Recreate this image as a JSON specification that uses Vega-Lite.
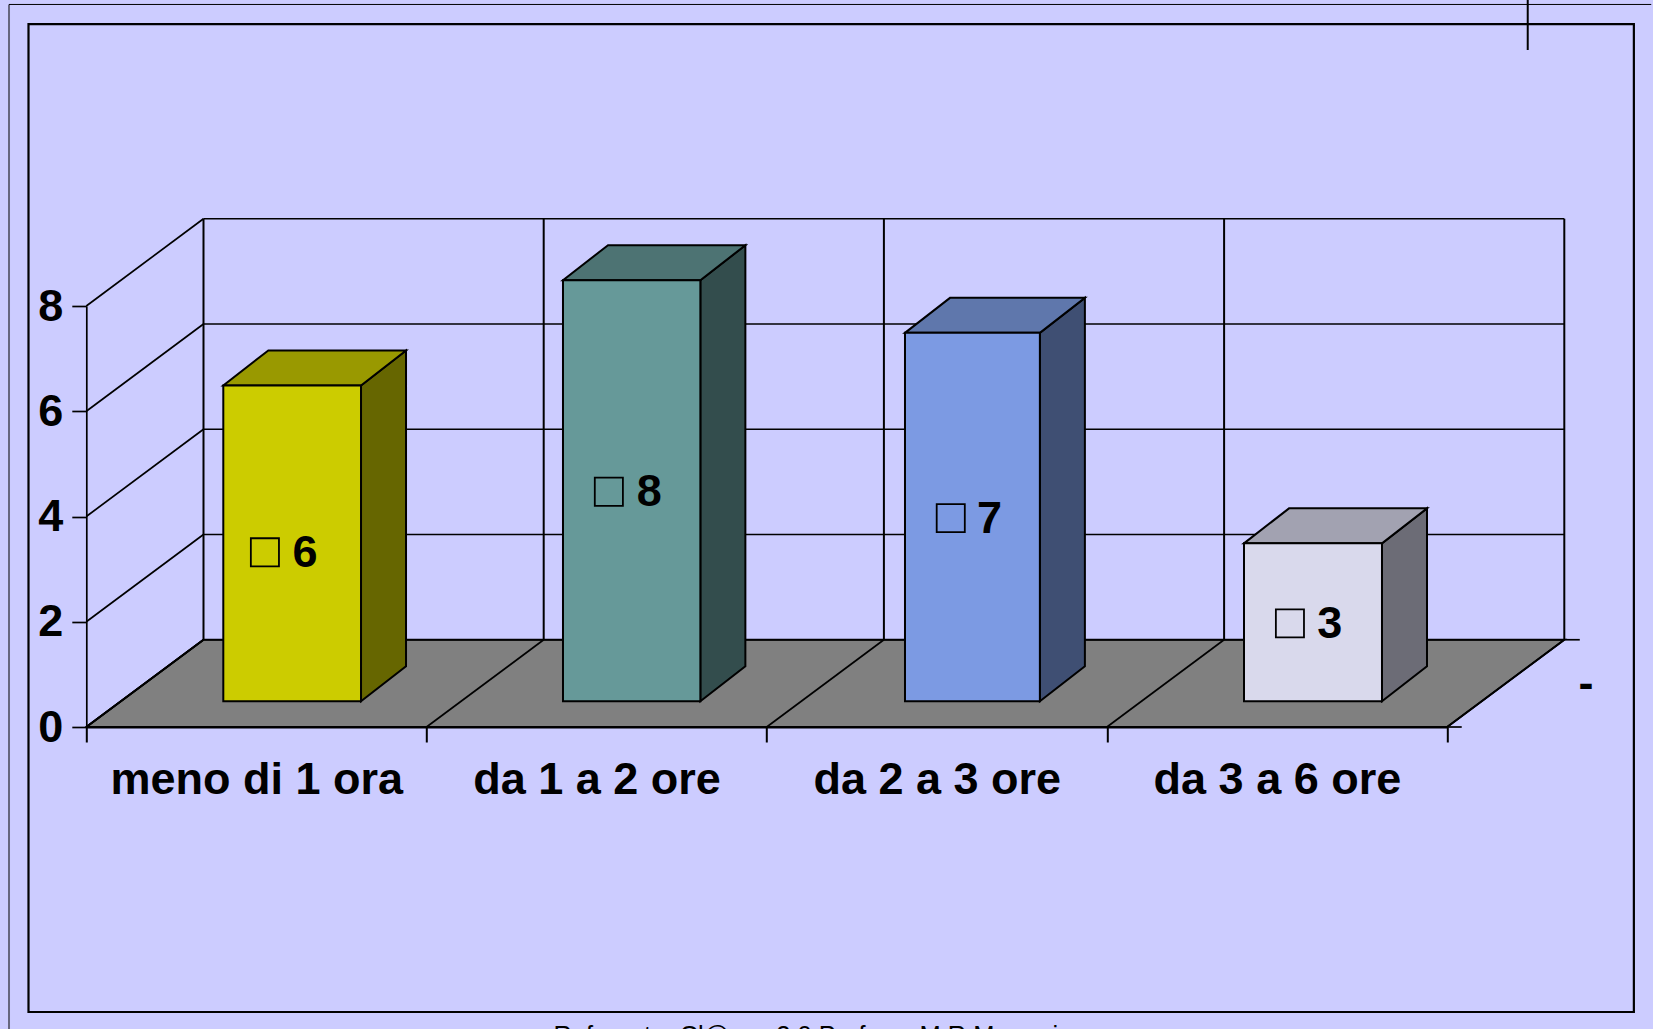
{
"$schema":"https://vega.github.io/schema/vega-lite/v6.json",
"width":1360.8,"height":421,
"autosize":{"type":"none"},
"padding":{"left":86.3,"top":306,"right":205.9,"bottom":302},
"background":"#CCCCFF",
"config":{"view":{"stroke":null},"text":{"font":"Liberation Sans"},"axis":{"title":null,"grid":false}},
"datasets":{
 "bars":[{"category":"meno di 1 ora","value":6},{"category":"da 1 a 2 ore","value":8},{"category":"da 2 a 3 ore","value":7},{"category":"da 3 a 6 ore","value":3}],
 "levels":[{"v":0},{"v":2},{"v":4},{"v":6},{"v":8}],
 "slots":[{"c":0},{"c":1},{"c":2},{"c":3},{"c":4}],
 "one":[{"n":1}],
 "depth":[{"t":0},{"t":1}]
},
"layer":[
{"data":{"name":"depth"},
 "transform":[{"calculate":"1.658*datum.t","as":"fy"},{"calculate":"0.3445*datum.t","as":"fx"},{"calculate":"4+0.3445*datum.t","as":"fx2"}],
 "mark":{"type":"area","orient":"horizontal","fill":"#808080","stroke":"#000000","strokeWidth":2},
 "encoding":{
  "x":{"field":"fx","type":"quantitative","scale":{"domain":[0,4],"nice":false,"zero":false},
   "axis":{"title":null,"values":[0,1,2,3,4],"grid":false,"tickSize":15,"tickWidth":2,"tickColor":"#000","domainColor":"#000","domainWidth":2,"labelOffset":170,"labelPadding":15,"labelLimit":500,"labelFont":"Liberation Sans","labelFontWeight":"bold","labelFontSize":45,"labelColor":"#000","labelFlush":false,"labelOverlap":false,"labelExpr":"['meno di 1 ora','da 1 a 2 ore','da 2 a 3 ore','da 3 a 6 ore',''][datum.value]"}},
  "x2":{"field":"fx2"},
  "y":{"field":"fy","type":"quantitative","scale":{"domain":[0,8],"nice":false,"zero":false},
   "axis":{"title":null,"values":[0,2,4,6,8],"grid":false,"tickSize":14.5,"tickWidth":1.7,"tickColor":"#000","domainColor":"#000","domainWidth":1.7,"labelPadding":9,"labelFont":"Liberation Sans","labelFontWeight":"bold","labelFontSize":45,"labelColor":"#000","labelFlush":false,"labelOverlap":false,"format":"d"}}
 }},
{"data":{"name":"levels"},
 "transform":[{"calculate":"datum.v+1.658","as":"b"}],
 "layer":[
  {"mark":{"type":"rule","color":"#000","strokeWidth":1.7},
   "encoding":{"x":{"datum":0,"type":"quantitative"},"x2":{"datum":0.3445},"y":{"field":"v","type":"quantitative"},"y2":{"field":"b"}}},
  {"mark":{"type":"rule","color":"#000","strokeWidth":1.7},
   "encoding":{"x":{"datum":0.3445,"type":"quantitative"},"x2":{"datum":4.3445},"y":{"field":"b","type":"quantitative"}}}
 ]},
{"data":{"name":"slots"},
 "transform":[{"calculate":"datum.c+0.3445","as":"bx"},{"calculate":"9.658","as":"top"},{"calculate":"1.658","as":"bot"},{"calculate":"0","as":"front"}],
 "layer":[
  {"mark":{"type":"rule","color":"#000","strokeWidth":2},
   "encoding":{"x":{"field":"bx","type":"quantitative"},"y":{"field":"bot","type":"quantitative"},"y2":{"field":"top"}}},
  {"mark":{"type":"rule","color":"#000","strokeWidth":1.7},
   "encoding":{"x":{"field":"c","type":"quantitative"},"x2":{"field":"bx"},"y":{"field":"front","type":"quantitative"},"y2":{"field":"bot"}}}
 ]},
{"data":{"name":"one"},
 "layer":[
  {"mark":{"type":"rule","color":"#000","strokeWidth":1.7},"encoding":{"x":{"datum":4.3445,"type":"quantitative"},"x2":{"datum":4.39},"y":{"datum":1.658,"type":"quantitative"}}},
  {"mark":{"type":"rule","color":"#000","strokeWidth":1.7},"encoding":{"x":{"datum":4,"type":"quantitative"},"x2":{"datum":4.043},"y":{"datum":0,"type":"quantitative"}}},
  {"mark":{"type":"rect","fill":null,"stroke":"#000","strokeWidth":2.2},"encoding":{"x":{"datum":-0.1699,"type":"quantitative"},"x2":{"datum":4.549},"y":{"datum":-5.416,"type":"quantitative"},"y2":{"datum":13.358}}},
  {"mark":{"type":"rule","color":"#66667F","strokeWidth":2},"encoding":{"x":{"datum":-0.2272,"type":"quantitative"},"y":{"datum":13.73,"type":"quantitative"},"y2":{"datum":-5.74}}},
  {"mark":{"type":"rule","color":"#000","strokeWidth":1},"encoding":{"x":{"datum":-0.2272,"type":"quantitative"},"x2":{"datum":4.6},"y":{"datum":13.73,"type":"quantitative"}}},
  {"mark":{"type":"rule","color":"#000","strokeWidth":2},"encoding":{"x":{"datum":4.237,"type":"quantitative"},"y":{"datum":13.815,"type":"quantitative"},"y2":{"datum":12.865}}},
  {"mark":{"type":"text","align":"center","baseline":"alphabetic","fontSize":45,"fontWeight":"bold","font":"Liberation Sans","color":"#000","text":"-"},"encoding":{"x":{"datum":4.408,"type":"quantitative"},"y":{"datum":0.55,"type":"quantitative"}}},
  {"mark":{"type":"text","align":"center","baseline":"alphabetic","fontSize":25.5,"font":"Liberation Sans","color":"#000","text":"Referente: Cl@sse 2.0 Prof.ssa M.R.Mercuri"},"encoding":{"x":{"datum":2.115,"type":"quantitative"},"y":{"datum":-6.02,"type":"quantitative"}}}
 ]},
{"data":{"name":"bars"},
 "transform":[
  {"calculate":"indexof(['meno di 1 ora','da 1 a 2 ore','da 2 a 3 ore','da 3 a 6 ore'],datum.category)","as":"i"},
  {"calculate":"[0,1]","as":"t"},{"flatten":["t"]},
  {"calculate":"datum.i+[0.8075,0.805,0.803,0.8086][datum.i]+0.1323*datum.t","as":"sx"},
  {"calculate":"0.49+0.665*datum.t","as":"lo"},
  {"calculate":"datum.lo+datum.value","as":"hi"}
 ],
 "mark":{"type":"area","stroke":"#000","strokeWidth":2,"orient":"vertical"},
 "encoding":{
  "x":{"field":"sx","type":"quantitative"},
  "y":{"field":"lo","type":"quantitative"},"y2":{"field":"hi"},
  "fill":{"field":"category","type":"nominal","legend":null,"scale":{"domain":["meno di 1 ora","da 1 a 2 ore","da 2 a 3 ore","da 3 a 6 ore"],"range":["#666600","#334D4D","#3F4F73","#6C6C76"]}}
 }},
{"data":{"name":"bars"},
 "transform":[
  {"calculate":"indexof(['meno di 1 ora','da 1 a 2 ore','da 2 a 3 ore','da 3 a 6 ore'],datum.category)","as":"i"},
  {"calculate":"[0,1]","as":"t"},{"flatten":["t"]},
  {"calculate":"datum.i+[0.4027,0.4012,0.4065,0.403][datum.i]+0.1323*datum.t","as":"tx"},
  {"calculate":"datum.i+[0.8075,0.805,0.803,0.8086][datum.i]+0.1323*datum.t","as":"tx2"},
  {"calculate":"0.49+datum.value+0.665*datum.t","as":"ty"}
 ],
 "mark":{"type":"area","stroke":"#000","strokeWidth":2,"orient":"horizontal"},
 "encoding":{
  "x":{"field":"tx","type":"quantitative"},"x2":{"field":"tx2"},
  "y":{"field":"ty","type":"quantitative"},
  "fill":{"field":"category","type":"nominal","legend":null,"scale":{"domain":["meno di 1 ora","da 1 a 2 ore","da 2 a 3 ore","da 3 a 6 ore"],"range":["#999900","#4D7373","#5F77AC","#A2A2B1"]}}
 }},
{"data":{"name":"bars"},
 "transform":[
  {"calculate":"indexof(['meno di 1 ora','da 1 a 2 ore','da 2 a 3 ore','da 3 a 6 ore'],datum.category)","as":"i"},
  {"calculate":"datum.i+[0.4027,0.4012,0.4065,0.403][datum.i]","as":"l"},{"calculate":"datum.i+[0.8075,0.805,0.803,0.8086][datum.i]","as":"r"},
  {"calculate":"0.49","as":"base"},{"calculate":"0.49+datum.value","as":"top"},
  {"calculate":"datum.i+[0.525,0.536,0.541,0.538][datum.i]","as":"kx"},
  {"calculate":"datum.i+(datum.i==0?0.606:0.618)","as":"lx"},
  {"calculate":"0.47+datum.value/2-(datum.i==0?0.15:0)","as":"ky"},
  {"calculate":"datum.ky-0.275","as":"ly"}
 ],
 "layer":[
  {"mark":{"type":"rect","stroke":"#000","strokeWidth":2},
   "encoding":{"x":{"field":"l","type":"quantitative"},"x2":{"field":"r"},"y":{"field":"base","type":"quantitative"},"y2":{"field":"top"},
    "fill":{"field":"category","type":"nominal","legend":null,"scale":{"domain":["meno di 1 ora","da 1 a 2 ore","da 2 a 3 ore","da 3 a 6 ore"],"range":["#CCCC00","#669999","#7C9AE3","#D9D9EC"]}}}},
  {"mark":{"type":"point","shape":"square","size":790,"filled":false,"stroke":"#000","strokeWidth":1.8,"opacity":1},
   "encoding":{"x":{"field":"kx","type":"quantitative"},"y":{"field":"ky","type":"quantitative"}}},
  {"mark":{"type":"text","align":"left","baseline":"alphabetic","fontSize":45,"fontWeight":"bold","font":"Liberation Sans","color":"#000"},
   "encoding":{"x":{"field":"lx","type":"quantitative"},"y":{"field":"ly","type":"quantitative"},"text":{"field":"value","type":"quantitative","format":"d"}}}
 ]}
],
"resolve":{"scale":{"fill":"independent"}}
}
